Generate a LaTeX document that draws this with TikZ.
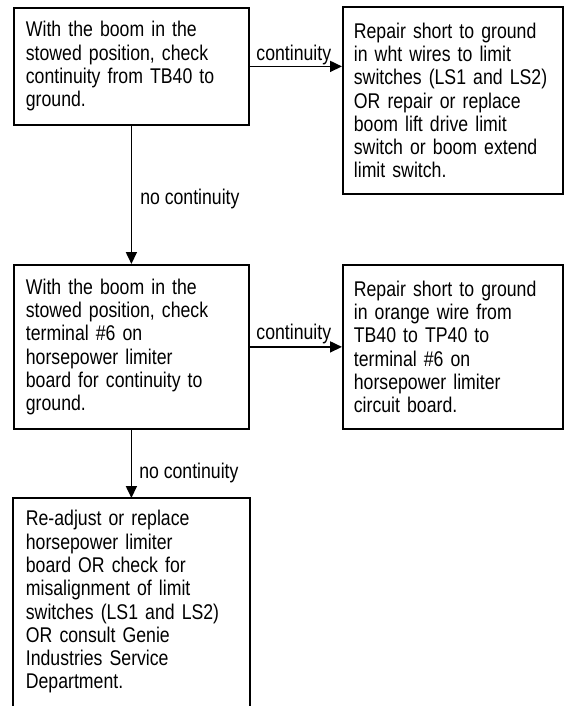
\documentclass[tikz,border=0pt]{standalone}
\usepackage{fontspec}
\setmainfont{Liberation Sans}[FakeStretch=0.83]
\usetikzlibrary{arrows.meta,calc}
\begin{document}
\begin{tikzpicture}[x=1pt,y=-1pt,
  txt/.style={font=\fontsize{21.3}{23.3}\selectfont},
  box/.style={txt, draw, line width=1.8pt, anchor=north west, inner xsep=12pt, inner ysep=0pt, align=left},
  lbox/.style={box, text width=211pt, minimum width=235pt},
  rbox/.style={box, inner xsep=11pt, text width=198pt, minimum width=220pt},
  arr/.style={line width=1.7pt, -{Triangle[length=12pt,width=11pt]}},
  lbl/.style={txt, inner sep=0pt}]
\useasboundingbox (0,0) rectangle (563,706);
\coordinate (bot) at (0,706);

\node[lbox, minimum height=117pt] (b1) at (13,7)
  {With the boom in the\\stowed position, check\\continuity from TB40 to\\ground.};
\node[rbox, minimum height=187pt] (r1) at (342,6)
  {Repair short to ground\\in wht wires to limit\\switches (LS1 and LS2)\\OR repair or replace\\boom lift drive limit\\switch or boom extend\\limit switch.};
\node[lbox, minimum height=164pt] (b2) at (13,264)
  {With the boom in the\\stowed position, check\\terminal \#6 on\\horsepower limiter\\board for continuity to\\ground.};
\node[rbox, minimum height=164pt] (r2) at (342,264)
  {Repair short to ground\\in orange wire from\\TB40 to TP40 to\\terminal \#6 on\\horsepower limiter\\circuit board.};
\node[lbox, draw=none, minimum height=206pt] (b3) at (13,498)
  {Re-adjust or replace\\horsepower limiter\\board OR check for\\misalignment of limit\\switches (LS1 and LS2)\\OR consult Genie\\Industries Service\\Department.};
\draw[line width=1.8pt] (b3.north west |- bot) -- (b3.north west) -- (b3.north east) -- (b3.north east |- bot);

\draw[arr] (b1.east) -- node[lbl, pos=1, anchor=base east, xshift=-10pt, yshift=6pt] {continuity} (b1.east -| r1.west);
\draw[arr] (b2.east) -- node[lbl, pos=1, anchor=base east, xshift=-10pt, yshift=7pt] {continuity} (b2.east -| r2.west);
\draw[arr] (b1.south) -- node[lbl, pos=0.57, anchor=base west, xshift=8pt] {no continuity} (b2.north);
\draw[arr] (b2.south) -- node[lbl, pos=0.72, anchor=base west, xshift=7pt] {no continuity} (b3.north);
\end{tikzpicture}
\end{document}
